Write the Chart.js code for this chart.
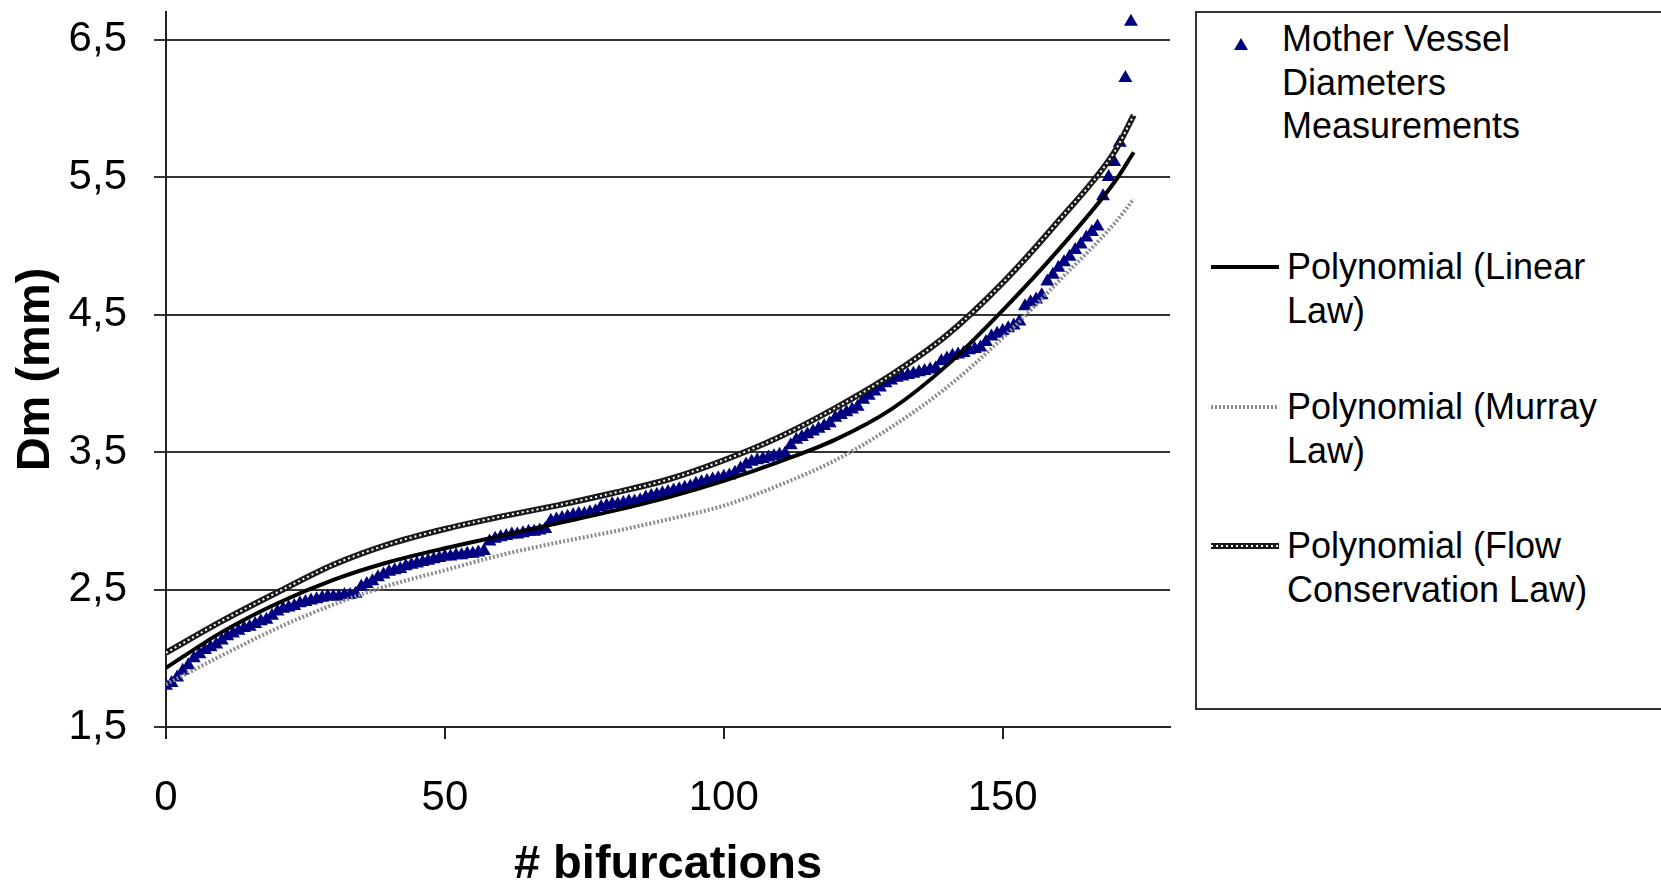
<!DOCTYPE html>
<html>
<head>
<meta charset="utf-8">
<script src="https://cdn.jsdelivr.net/npm/chart.js@4.4.1/dist/chart.umd.min.js"></script>
<style>
  html, body { margin: 0; padding: 0; background: #fff; }
  body { width: 1661px; height: 889px; position: relative; overflow: hidden; font-family: "Liberation Sans", Arial, sans-serif; }
  #c { position: absolute; left: 0; top: 0; }
  #legend { position: absolute; left: 1195px; top: 11px; width: 468px; height: 699px; box-sizing: border-box; border: 2px solid #333; background: #fff; }
  .lt { position: absolute; font-size: 36px; line-height: 43.5px; color: #000; white-space: nowrap; }
  .mk { position: absolute; }
</style>
</head>
<body>
<canvas id="c" width="1661" height="889"></canvas>
<div id="legend"></div>
<script>
// ---- data ----
const xTicks = [0, 50, 100, 150];
const yTicks = [1.5, 2.5, 3.5, 4.5, 5.5, 6.5];

// Mother vessel diameter measurements, bifurcation index 0..173 (sorted)
const measurements = [
  1.80,1.82,1.86,1.91,1.95,2.00,2.03,2.06,2.08,2.10,
  2.13,2.16,2.18,2.20,2.22,2.23,2.25,2.27,2.28,2.31,
  2.34,2.36,2.37,2.38,2.40,2.41,2.42,2.43,2.44,2.45,
  2.45,2.45,2.46,2.46,2.47,2.52,2.54,2.56,2.59,2.61,
  2.63,2.64,2.65,2.67,2.68,2.69,2.70,2.71,2.72,2.73,
  2.74,2.74,2.75,2.75,2.76,2.76,2.77,2.78,2.85,2.87,
  2.88,2.89,2.90,2.90,2.91,2.92,2.92,2.93,2.94,3.00,
  3.01,3.02,3.03,3.04,3.05,3.05,3.06,3.07,3.10,3.11,
  3.12,3.12,3.13,3.14,3.14,3.15,3.17,3.18,3.19,3.20,
  3.21,3.22,3.23,3.24,3.25,3.27,3.28,3.29,3.30,3.31,
  3.32,3.33,3.35,3.38,3.41,3.43,3.44,3.45,3.46,3.47,
  3.48,3.49,3.55,3.59,3.61,3.63,3.65,3.67,3.69,3.71,
  3.75,3.77,3.79,3.81,3.83,3.88,3.91,3.94,3.97,4.00,
  4.02,4.04,4.05,4.06,4.07,4.08,4.09,4.10,4.11,4.16,
  4.18,4.20,4.21,4.22,4.24,4.25,4.26,4.30,4.34,4.36,
  4.38,4.40,4.42,4.45,4.56,4.59,4.61,4.64,4.74,4.79,
  4.84,4.88,4.92,4.97,5.01,5.06,5.10,5.14,5.36,5.50,
  5.61,5.75,6.22,6.63
];

// Polynomial trend lines, sampled at these bifurcation indices
const trendX      = [0, 10, 20, 30, 40, 50, 60, 70, 80, 90, 100, 110, 120, 130, 140, 150, 160, 170, 173.5];
const linearLaw   = [1.93,2.19,2.40,2.57,2.70,2.80,2.89,2.98,3.07,3.17,3.29,3.43,3.59,3.81,4.13,4.53,4.97,5.46,5.68];
const murrayLaw   = [1.81,2.02,2.22,2.39,2.53,2.64,2.75,2.84,2.92,3.01,3.11,3.26,3.44,3.68,3.97,4.33,4.74,5.16,5.34];
const flowLaw     = [2.04,2.27,2.48,2.68,2.83,2.94,3.03,3.11,3.20,3.30,3.44,3.61,3.82,4.06,4.35,4.73,5.18,5.68,5.95];

const legendLabels = [
  ["Mother Vessel", "Diameters", "Measurements"],
  ["Polynomial (Linear", "Law)"],
  ["Polynomial (Murray", "Law)"],
  ["Polynomial (Flow", "Conservation Law)"]
];
const xTitle = "# bifurcations";
const yTitle = "Dm (mm)";

// ---- build ----
const toPts = (xs, ys) => ys.map((v, i) => ({ x: xs[i], y: v }));
const measPts = measurements.map((v, i) => ({ x: i, y: v }));
const FONT = "'Liberation Sans', Arial, sans-serif";

const lineBase = { showLine: true, pointRadius: 0, pointHoverRadius: 0, fill: false, cubicInterpolationMode: 'monotone' };

new Chart(document.getElementById('c'), {
  type: 'scatter',
  data: {
    datasets: [
      Object.assign({ label: 'flowTop', data: toPts(trendX, flowLaw), borderColor: '#ffffff', borderWidth: 2, borderDash: [2, 3], order: 0 }, lineBase),
      Object.assign({ label: legendLabels[3].join(' '), data: toPts(trendX, flowLaw), borderColor: '#1a1a1a', borderWidth: 6, order: 1 }, lineBase),
      Object.assign({ label: legendLabels[1].join(' '), data: toPts(trendX, linearLaw), borderColor: '#000000', borderWidth: 4, order: 2 }, lineBase),
      Object.assign({ label: legendLabels[2].join(' '), data: toPts(trendX, murrayLaw), borderColor: '#8c8c8c', borderWidth: 4, borderDash: [2, 2], order: 3 }, lineBase),
      { label: legendLabels[0].join(' '), data: measPts, showLine: false, pointStyle: 'triangle', pointRadius: 8, pointBorderWidth: 0,
        backgroundColor: '#000080', borderColor: '#000080', order: 4 }
    ]
  },
  options: {
    responsive: false,
    devicePixelRatio: 1,
    animation: false,
    events: [],
    layout: { padding: { left: 0, right: 491, top: 12, bottom: 0 } },
    plugins: { legend: { display: false }, tooltip: { enabled: false } },
    scales: {
      x: {
        type: 'linear', min: 0, max: 180,
        afterBuildTicks: s => { s.ticks = xTicks.map(v => ({ value: v })); },
        afterFit: s => { s.height = 162; s.paddingLeft = 0; s.paddingRight = 0; },
        grid: { drawOnChartArea: false, drawTicks: true, tickLength: 12, color: '#222', lineWidth: 2 },
        border: { display: true, color: '#222', width: 2 },
        ticks: { color: '#000', font: { family: FONT, size: 42 }, padding: 34, maxRotation: 0 },
        title: { display: true, text: xTitle, color: '#000', font: { family: FONT, size: 47, weight: 'bold', lineHeight: 1 }, padding: { top: 0, bottom: 0 } }
      },
      y: {
        type: 'linear', min: 1.5, max: 6.7,
        afterBuildTicks: s => { s.ticks = yTicks.map(v => ({ value: v })); },
        afterFit: s => { s.width = 166; s.paddingTop = 0; s.paddingBottom = 0; },
        grid: { drawOnChartArea: true, drawTicks: true, tickLength: 12, color: '#333', lineWidth: 2 },
        border: { display: true, color: '#222', width: 2 },
        ticks: { color: '#000', font: { family: FONT, size: 42 }, padding: 27,
                 callback: v => v.toFixed(1).replace('.', ',') },
        title: { display: true, text: yTitle, color: '#000', font: { family: FONT, size: 47, weight: 'bold', lineHeight: 1 }, padding: { top: 13, bottom: 0 } }
      }
    }
  }
});

// ---- HTML legend ----
const lg = document.getElementById('legend');
const L0 = 1195, T0 = 11;
const rows = [
  { textLeft: 1282, firstCenter: 39, marker: 'tri', mx: 1241, my: 44 },
  { textLeft: 1287, firstCenter: 267, marker: 'solid', my: 267 },
  { textLeft: 1287, firstCenter: 407, marker: 'dot', my: 407 },
  { textLeft: 1287, firstCenter: 546, marker: 'chain', my: 546 }
];
rows.forEach((r, i) => {
  const t = document.createElement('div');
  t.className = 'lt';
  t.style.left = (r.textLeft - L0 - 2) + 'px';
  t.style.top = (r.firstCenter - 21.75 - T0 - 2) + 'px';
  legendLabels[i].forEach((line, k) => {
    if (k) t.appendChild(document.createElement('br'));
    t.appendChild(document.createTextNode(line));
  });
  lg.appendChild(t);
  const ns = 'http://www.w3.org/2000/svg';
  const svg = document.createElementNS(ns, 'svg');
  svg.setAttribute('class', 'mk');
  if (r.marker === 'tri') {
    svg.setAttribute('width', 16); svg.setAttribute('height', 14);
    svg.style.left = (r.mx - 8 - L0 - 2) + 'px'; svg.style.top = (r.my - 7 - T0 - 2) + 'px';
    const p = document.createElementNS(ns, 'polygon');
    p.setAttribute('points', '8,1 15,13 1,13'); p.setAttribute('fill', '#000080');
    svg.appendChild(p);
  } else {
    svg.setAttribute('width', 70); svg.setAttribute('height', 10);
    svg.style.left = (1211 - L0 - 2) + 'px'; svg.style.top = (r.my - 5 - T0 - 2) + 'px';
    const mk = (color, w, dash) => {
      const l = document.createElementNS(ns, 'line');
      l.setAttribute('x1', 0); l.setAttribute('x2', 68); l.setAttribute('y1', 5); l.setAttribute('y2', 5);
      l.setAttribute('stroke', color); l.setAttribute('stroke-width', w);
      if (dash) l.setAttribute('stroke-dasharray', dash);
      svg.appendChild(l);
    };
    if (r.marker === 'solid') mk('#000', 4);
    if (r.marker === 'dot') mk('#8c8c8c', 4, '2 2');
    if (r.marker === 'chain') { mk('#1a1a1a', 6); mk('#fff', 2, '2 3'); }
  }
  lg.appendChild(svg);
});
</script>
</body>
</html>
